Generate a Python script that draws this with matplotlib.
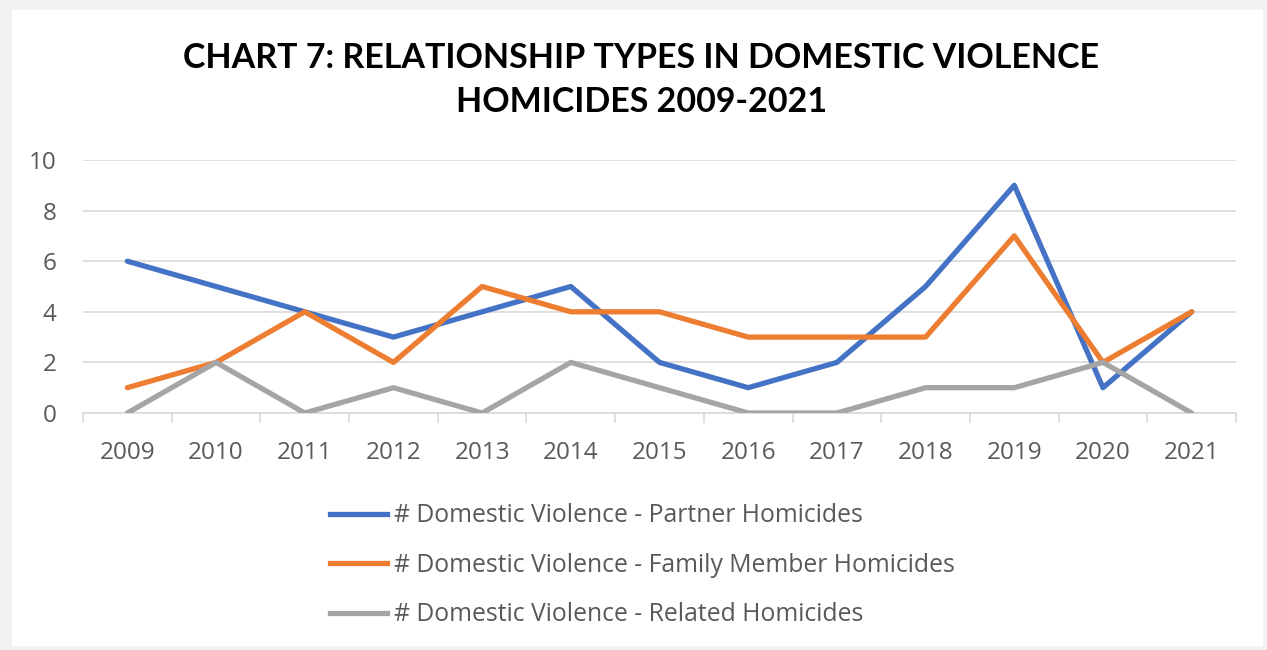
import matplotlib
matplotlib.use("Agg")
import matplotlib.pyplot as plt
from matplotlib.patches import Rectangle
from matplotlib.lines import Line2D

years = ["2009", "2010", "2011", "2012", "2013", "2014", "2015",
         "2016", "2017", "2018", "2019", "2020", "2021"]
partner = [6, 5, 4, 3, 4, 5, 2, 1, 2, 5, 9, 1, 4]
family = [1, 2, 4, 2, 5, 4, 4, 3, 3, 3, 7, 2, 4]
related = [0, 2, 0, 1, 0, 2, 1, 0, 0, 1, 1, 2, 0]
series_labels = ["# Domestic Violence - Partner Homicides",
                 "# Domestic Violence - Family Member Homicides",
                 "# Domestic Violence - Related Homicides"]
colors = ["#4472C4", "#ED7D31", "#A5A5A5"]
title = "CHART 7: RELATIONSHIP TYPES IN DOMESTIC VIOLENCE\nHOMICIDES 2009-2021"

W, H = 1267, 650
fig = plt.figure(figsize=(W / 100, H / 100), dpi=100)
fig.patch.set_facecolor("#F2F2F2")
fig.add_artist(Rectangle((12 / W, 1 - 646 / H), (1263 - 12) / W, (646 - 10) / H,
                         transform=fig.transFigure, facecolor="white",
                         edgecolor="none", zorder=0))

ax = fig.add_axes([83 / W, 1 - 413 / H, (1236 - 83) / W, (413 - 160) / H])
ax.set_facecolor("none")
x = list(range(len(years)))
for vals, c in zip([partner, family, related], colors):
    ax.plot(x, vals, color=c, lw=3.8, solid_capstyle="round",
            solid_joinstyle="round", zorder=3)

ax.set_xlim(-0.5, len(years) - 0.5)
ax.set_ylim(0, 10)
ax.set_yticks(range(0, 11, 2))
ax.grid(axis="y", color="#D9D9D9", lw=1.2)
ax.set_axisbelow(True)
for s in ["top", "right", "left"]:
    ax.spines[s].set_visible(False)
ax.spines["bottom"].set_color("#D9D9D9")
ax.spines["bottom"].set_linewidth(1.2)
ax.set_xticks([i - 0.5 for i in range(len(years) + 1)])
ax.set_xticklabels([])
ax.tick_params(axis="x", length=7, width=1.2, color="#D9D9D9")
ax.set_xticks(x, minor=True)
ax.set_xticklabels(years, minor=True)
ax.tick_params(axis="x", which="minor", length=0, pad=20,
               labelsize=17.5, labelcolor="#595959")
ax.tick_params(axis="y", length=0, pad=19, labelsize=17.5, labelcolor="#595959")
for lab in ax.get_xticklabels(minor=True) + ax.get_yticklabels():
    lab.set_fontfamily("Open Sans")

fig.text(0.506, 1 - 80 / H, title, ha="center", va="center",
         fontsize=24.5, fontweight="bold", family="Lato", linespacing=1.5)

handles = [Line2D([0], [0], color=c, lw=3.8) for c in colors]
leg = fig.legend(handles, series_labels, loc="upper left",
                 bbox_to_anchor=(308 / W, 1 - 481 / H), frameon=False,
                 prop={"family": "Open Sans", "size": 17.8},
                 labelcolor="#595959", handlelength=2.3, handletextpad=0.28,
                 labelspacing=0.99)

fig.savefig("out.png", dpi=100, facecolor=fig.get_facecolor())
